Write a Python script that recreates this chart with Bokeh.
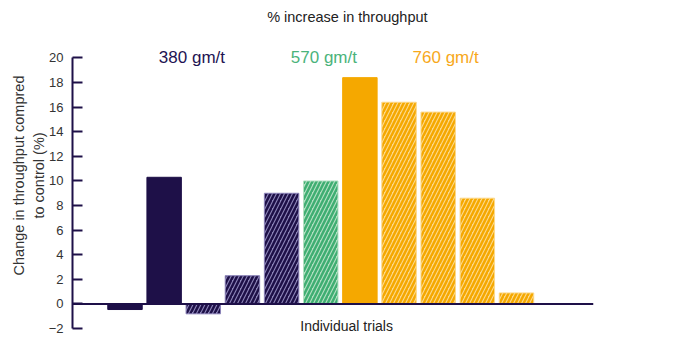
import math
from bokeh.plotting import figure
from bokeh.models import ColumnDataSource, FixedTicker, Label, Span, Range1d
from bokeh.embed import file_html
from bokeh.resources import INLINE

# ---- data ----
trials = list(range(11))
values = [-0.45, 10.3, -0.8, 2.3, 9.0, 10.0, 18.4, 16.4, 15.6, 8.6, 0.9]
groups = ["380", "380", "380", "380", "380", "570", "760", "760", "760", "760", "760"]
hatched = [False, False, True, True, True, True, False, True, True, True, True]
group_labels = ["380 gm/t", "570 gm/t", "760 gm/t"]
y_ticks = [-2, 0, 2, 4, 6, 8, 10, 12, 14, 16, 18, 20]

# ---- styles ----
dark = {"380": "#1e1048", "570": "#3fae72", "760": "#f5a800"}
light = {"380": "#8c84b8", "570": "#b3e0c2", "760": "#fcd98c"}
label_col = {"380 gm/t": "#1e1452", "570 gm/t": "#4bb37b", "760 gm/t": "#f7a81b"}
label_x = {"380 gm/t": 1.71, "570 gm/t": 5.08, "760 gm/t": 8.19}
FONT = "Liberation Sans"

p = figure(width=680, height=342, output_backend="svg", toolbar_location=None,
           x_range=Range1d(-1.341, 11.967), y_range=Range1d(-3.13, 24.02),
           x_axis_location=None, min_border_left=72, min_border_right=87,
           min_border_top=8, min_border_bottom=0)
p.outline_line_color = None
p.grid.visible = False
p.background_fill_color = "white"
p.border_fill_color = "white"

solid_idx = [i for i in trials if not hatched[i]]
hatch_idx = [i for i in trials if hatched[i]]

src_solid = ColumnDataSource(dict(
    x=[trials[i] for i in solid_idx], top=[values[i] for i in solid_idx],
    color=[dark[groups[i]] for i in solid_idx]))
src_hatch = ColumnDataSource(dict(
    x=[trials[i] for i in hatch_idx], top=[values[i] for i in hatch_idx],
    fill=[light[groups[i]] for i in hatch_idx],
    hcol=[dark[groups[i]] for i in hatch_idx]))

p.vbar(x="x", top="top", bottom=0, width=0.88, source=src_solid,
       fill_color="color", line_color="color", line_width=1)
p.vbar(x="x", top="top", bottom=0, width=0.88, source=src_hatch,
       fill_color="fill", line_color="fill", line_width=1,
       hatch_pattern="/", hatch_color="hcol", hatch_scale=8, hatch_weight=2.5)

# x axis line at zero
p.add_layout(Span(location=0, dimension="width", line_color="#1e1048", line_width=2))

ax = p.yaxis[0]
ax.bounds = (-2, 20)
ax.ticker = FixedTicker(ticks=y_ticks)
ax.axis_line_color = "#1e1048"
ax.axis_line_width = 2
ax.major_tick_line_color = "#1e1048"
ax.major_tick_line_width = 2
ax.major_tick_in = 10
ax.major_tick_out = 0
ax.minor_tick_line_color = None
ax.major_label_text_font = FONT
ax.major_label_text_font_size = "13px"
ax.major_label_text_color = "#333333"
ax.major_label_standoff = 9
ax.axis_label = "Change in throughput compred\nto control (%)"
ax.axis_label_text_font = FONT
ax.axis_label_text_font_size = "14.5px"
ax.axis_label_text_font_style = "normal"
ax.axis_label_text_color = "#333333"
ax.axis_label_standoff = -1

# texts
p.add_layout(Label(x=5.68, y=23.3, text="% increase in throughput", text_align="center",
                   text_baseline="middle", text_font=FONT, text_font_size="14.5px",
                   text_color="#222222"))
p.add_layout(Label(x=5.66, y=-1.75, text="Individual trials", text_align="center",
                   text_baseline="middle", text_font=FONT, text_font_size="14px",
                   text_color="#222222"))
for g in group_labels:
    p.add_layout(Label(x=label_x[g], y=20.0, text=g, text_align="center",
                       text_baseline="middle", text_font=FONT, text_font_size="17px",
                       text_color=label_col[g]))

open("out.html", "w").write(file_html(p, INLINE))
